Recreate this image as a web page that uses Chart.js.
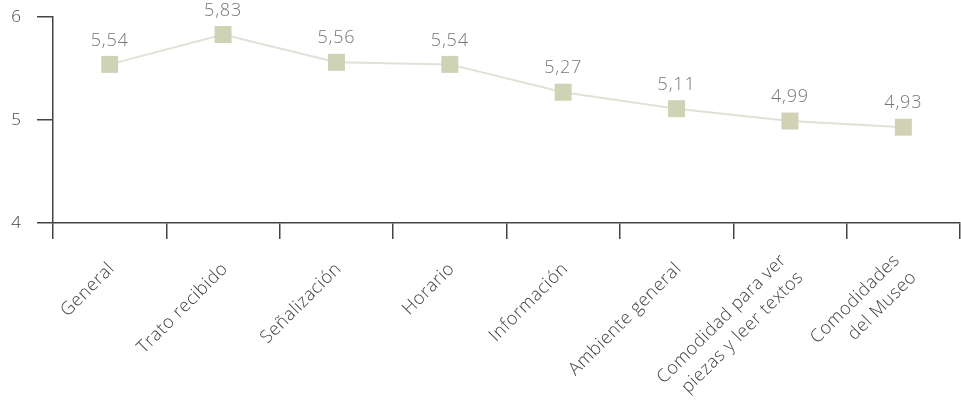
<!DOCTYPE html>
<html>
<head>
<meta charset="utf-8">
<script src="https://cdn.jsdelivr.net/npm/chart.js@4"></script>
<style>
  html, body { margin: 0; padding: 0; background: #fff; }
  #wrap { width: 961px; height: 404px; }
</style>
</head>
<body>
<div id="wrap"><canvas id="c" width="961" height="404"></canvas></div>
<script>
// Satisfaction scores per museum aspect (scale 4–6)
const categories = [
  'General',
  'Trato recibido',
  'Señalización',
  'Horario',
  'Información',
  'Ambiente general',
  ['Comodidad para ver', 'piezas y leer textos'],
  ['Comodidades', 'del Museo']
];
const scores = [5.54, 5.83, 5.56, 5.54, 5.27, 5.11, 4.99, 4.93];
const yTicks = [4, 5, 6];

const FONT = '"Open Sans", Lato, sans-serif';

// Writes each score above its marker, with a decimal comma
const valueLabels = {
  id: 'valueLabels',
  afterDatasetsDraw(chart) {
    const ctx = chart.ctx;
    const meta = chart.getDatasetMeta(0);
    ctx.save();
    ctx.font = '300 18px ' + FONT;
    ctx.letterSpacing = '0.8px';
    ctx.fillStyle = '#777';
    ctx.textAlign = 'center';
    ctx.textBaseline = 'middle';
    meta.data.forEach((pt, i) => {
      const txt = scores[i].toFixed(2).replace('.', ',');
      ctx.fillText(txt, pt.x, pt.y - 24);
    });
    ctx.restore();
  }
};

// Category names at 45°, right-aligned, multi-line blocks centred on the category
const slantedLabels = {
  id: 'slantedLabels',
  afterDraw(chart) {
    const ctx = chart.ctx;
    const xs = chart.scales.x;
    const lineH = 24;
    const ang = -Math.PI / 4;
    ctx.save();
    ctx.font = '300 18px ' + FONT;
    ctx.letterSpacing = '0.5px';
    ctx.fillStyle = '#444';
    ctx.textAlign = 'right';
    ctx.textBaseline = 'middle';
    categories.forEach((lab, i) => {
      const lines = Array.isArray(lab) ? lab : [lab];
      const ax = xs.getPixelForValue(i) + 2;
      const ay = xs.top + 43;
      ctx.save();
      ctx.translate(ax, ay);
      ctx.rotate(ang);
      lines.forEach((ln, j) => {
        const off = (j - (lines.length - 1) / 2) * lineH;
        ctx.fillText(ln, 0, off);
      });
      ctx.restore();
    });
    ctx.restore();
  }
};

new Chart(document.getElementById('c'), {
  type: 'line',
  data: {
    labels: categories,
    datasets: [{
      data: scores,
      borderColor: '#dde3d6',
      borderWidth: 2,
      pointStyle: 'rect',
      pointRadius: 12,
      pointHoverRadius: 12,
      pointBackgroundColor: '#cfd2b4',
      pointBorderColor: '#cfd2b4',
      pointBorderWidth: 0,
      tension: 0
    }]
  },
  options: {
    responsive: false,
    animation: false,
    events: [],
    layout: { autoPadding: false, padding: { top: 17, right: 1, left: 0, bottom: 0 } },
    plugins: {
      legend: { display: false },
      tooltip: { enabled: false }
    },
    scales: {
      x: {
        offset: true,
        grid: {
          offset: true,
          drawOnChartArea: false,
          drawTicks: true,
          tickLength: 16,
          color: '#444',
          lineWidth: 1.5
        },
        border: { color: '#444', width: 1.5 },
        ticks: { display: false },
        afterFit(scale) {
          scale.height = 181;
          scale.paddingLeft = 0;
          scale.paddingRight = 0;
        }
      },
      y: {
        min: 4,
        max: 6,
        afterBuildTicks(scale) { scale.ticks = yTicks.map(v => ({ value: v })); },
        grid: {
          drawOnChartArea: false,
          drawTicks: true,
          tickLength: 16,
          color: '#444',
          lineWidth: 1.5
        },
        border: { color: '#444', width: 1.5 },
        ticks: {
          padding: 16,
          color: '#444',
          font: { family: FONT, size: 17, weight: '300' }
        },
        afterFit(scale) {
          scale.width = 53;
          scale.paddingTop = 0;
          scale.paddingBottom = 0;
        }
      }
    }
  },
  plugins: [valueLabels, slantedLabels]
});
</script>
</body>
</html>
